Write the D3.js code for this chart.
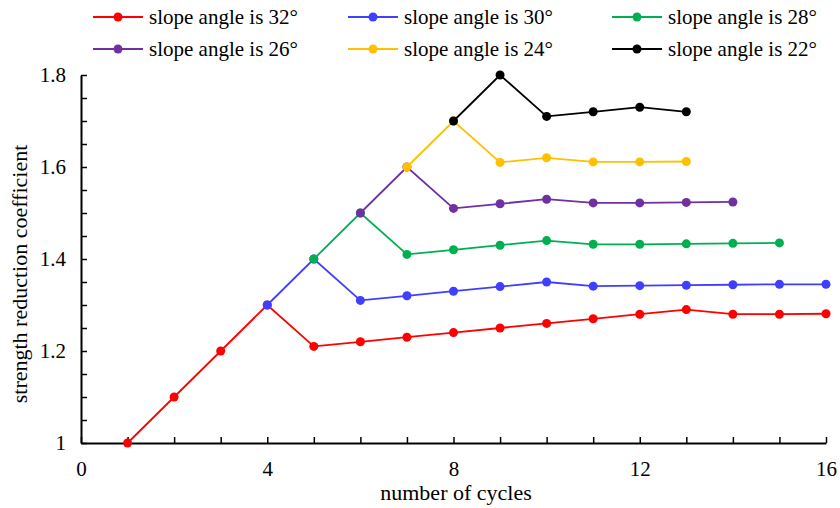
<!DOCTYPE html>
<html><head><meta charset="utf-8">
<script src="https://cdn.jsdelivr.net/npm/d3@7"></script>
<style>body{margin:0;background:#fff}svg{display:block}text{font-family:"Liberation Serif","Times New Roman",serif;fill:#000}</style>
</head><body><svg id="c" width="840" height="508"></svg>
<script>
const seriesNames = ["slope angle is 32°","slope angle is 30°","slope angle is 28°","slope angle is 26°","slope angle is 24°","slope angle is 22°"];
const colors = ["#ff0000","#3f3fff","#00b050","#7030a0","#ffc000","#000000"];
const xs32 = [1,2,3,4,5,6,7,8,9,10,11,12,13,14,15,16];
const ys32 = [1,1.1,1.2,1.3,1.21,1.22,1.23,1.24,1.25,1.26,1.27,1.28,1.29,1.28,1.28,1.281];
const xs30 = [4,5,6,7,8,9,10,11,12,13,14,15,16];
const ys30 = [1.3,1.4,1.31,1.32,1.33,1.34,1.35,1.341,1.342,1.343,1.344,1.345,1.345];
const xs28 = [5,6,7,8,9,10,11,12,13,14,15];
const ys28 = [1.4,1.5,1.41,1.42,1.43,1.44,1.432,1.432,1.433,1.434,1.435];
const xs26 = [6,7,8,9,10,11,12,13,14];
const ys26 = [1.5,1.6,1.51,1.52,1.53,1.522,1.522,1.523,1.524];
const xs24 = [7,8,9,10,11,12,13];
const ys24 = [1.6,1.7,1.61,1.62,1.611,1.611,1.612];
const xs22 = [8,9,10,11,12,13];
const ys22 = [1.7,1.8,1.71,1.72,1.73,1.72];
const xTickLabels = [0,4,8,12,16];
const yTickLabels = [1,1.2,1.4,1.6,1.8];

const allX = [xs32,xs30,xs28,xs26,xs24,xs22];
const allY = [ys32,ys30,ys28,ys26,ys24,ys22];
const svg = d3.select("#c");
const x = d3.scaleLinear().domain([0,16]).range([81,826]);
const y = d3.scaleLinear().domain([1,1.8]).range([443,75]);

// axes
const xAxis = d3.axisBottom(x).tickValues(d3.range(0,17,1)).tickSize(-6).tickFormat(d=>xTickLabels.includes(d)?d:"").tickSizeOuter(0);
const gx = svg.append("g").attr("transform",`translate(0,${y(1)})`).call(xAxis);
gx.select(".domain").attr("stroke","#000").attr("stroke-width",2);
gx.selectAll(".tick line").attr("stroke","#000").attr("stroke-width",1.5);
gx.selectAll(".tick text").attr("y",18).attr("dy","0.71em").style("font-size","21px").style("font-family","Liberation Serif");

const yAxis = d3.axisLeft(y).tickValues(d3.range(0,17).map(i=>1+i*0.05)).tickSize(-6).tickFormat(d=>{const r=Math.round(d*100)/100;return yTickLabels.some(v=>Math.abs(v-r)<1e-6)?String(r):"";}).tickSizeOuter(0);
const gy = svg.append("g").attr("transform",`translate(${x(0)},0)`).call(yAxis);
gy.select(".domain").attr("stroke","#000").attr("stroke-width",2);
gy.selectAll(".tick line").attr("stroke","#000").attr("stroke-width",1.5);
gy.selectAll(".tick text").attr("x",-15).style("font-size","21px").style("font-family","Liberation Serif");

svg.append("text").attr("x",456).attr("y",500).attr("text-anchor","middle").style("font-size","22px").text("number of cycles");
svg.append("text").attr("transform","translate(27,274) rotate(-90)").attr("text-anchor","middle").style("font-size","22px").text("strength reduction coefficient");

// series
const line = d3.line().x(d=>x(d[0])).y(d=>y(d[1]));
allX.forEach((xsArr,i)=>{
  const pts = xsArr.map((v,j)=>[v,allY[i][j]]);
  const g = svg.append("g");
  g.append("path").attr("d",line(pts)).attr("fill","none").attr("stroke",colors[i]).attr("stroke-width",1.8);
  g.selectAll("circle").data(pts).enter().append("circle").attr("cx",d=>x(d[0])).attr("cy",d=>y(d[1])).attr("r",4.5).attr("fill",colors[i]);
});

// legend
const legX = [93,348,612], legY = [17,49];
seriesNames.forEach((n,i)=>{
  const lx = legX[i%3], ly = legY[Math.floor(i/3)];
  const g = svg.append("g");
  g.append("line").attr("x1",lx).attr("x2",lx+50).attr("y1",ly).attr("y2",ly).attr("stroke",colors[i]).attr("stroke-width",2);
  g.append("circle").attr("cx",lx+25).attr("cy",ly).attr("r",4.5).attr("fill",colors[i]);
  g.append("text").attr("x",lx+56).attr("y",ly).attr("dy","0.35em").style("font-size","21px").text(n);
});
</script></body></html>
